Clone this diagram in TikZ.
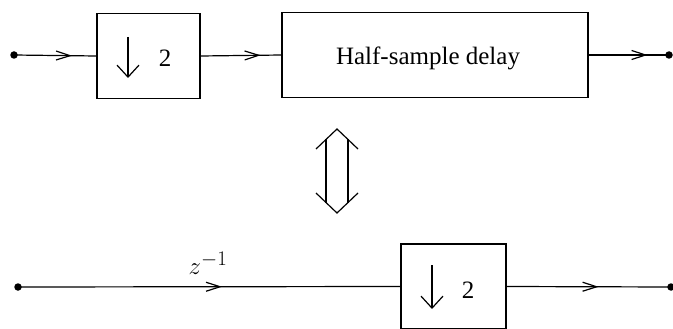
\documentclass[tikz,border=0pt]{standalone}
\usepackage{fontspec}
\setmainfont{Liberation Serif}
\usetikzlibrary{arrows.meta,decorations.markings}
\begin{document}
\begin{tikzpicture}[x=1pt,y=-1pt,line width=1.2pt,
  blk/.style={draw, minimum height=85pt, inner sep=0pt},
  dot/.style={circle, fill, inner sep=0pt, minimum size=7.5pt},
  lbl/.style={inner sep=0pt, font=\fontsize{25}{30}\selectfont},
  barb/.style={-{Straight Barb[length=12pt,width=22pt]}},
  midarrow/.style={postaction={decorate}, decoration={markings,
     mark=at position #1 with {\arrow{Straight Barb[length=14pt,width=9pt]}}}}]
\useasboundingbox (0,0) rectangle (673,329);
% top row
\node[dot] (in1) at (14,55) {};
\node[blk, minimum width=103pt] (b1) at (148.5,56) {};
\node[blk, minimum width=306pt] (b2) at (435,55) {};
\node[dot] (out1) at (669,55) {};
\node[lbl] (t2) at (428,58) {Half-sample delay};
\node[lbl] (two1) at (165,58) {2};
\draw[barb] (128,37) -- (128,78);
\draw[midarrow=58pt] (in1.center) -- (b1.west);
\draw[midarrow=60pt] (b1.east) -- (b2.west);
\draw[midarrow=59pt] (b2.east) -- (out1.center);
% double arrow
\draw[line join=miter] (316,149) -- (337,129) -- (358,149);
\draw[line join=miter] (316,193) -- (337,213) -- (358,193);
\draw (326,139.5) -- (326,202.5);
\draw (348,139.5) -- (348,202.5);
% bottom row
\node[dot] (in2) at (18,287) {};
\node[blk, minimum width=105pt] (b3) at (453.5,286.5) {};
\node[dot] (out2) at (671,287) {};
\node[lbl] (two3) at (468,290) {2};
\draw[barb] (432,265) -- (432,309);
\node[inner sep=0pt, font=\fontsize{30}{34}\selectfont] (lz) at (208,263) {$z^{-1}$};
\draw[midarrow=204pt] (in2.center) -- (b3.west);
\draw[midarrow=92pt] (b3.east) -- (out2.center);
\end{tikzpicture}
\end{document}
